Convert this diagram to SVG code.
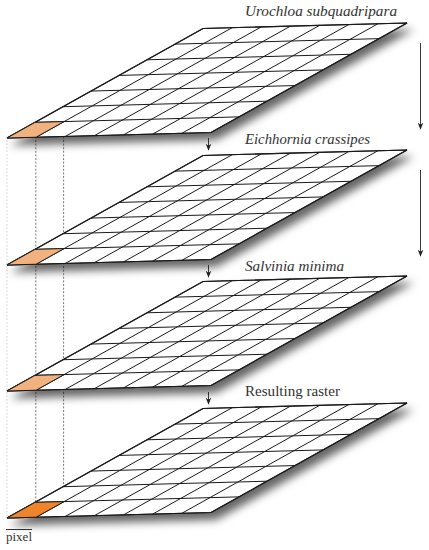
<svg xmlns="http://www.w3.org/2000/svg" xmlns:xlink="http://www.w3.org/1999/xlink" width="429" height="550" viewBox="0 0 429 550">
<style>
.grid{fill:none;stroke:#1a1a1a;stroke-width:1}
.plate{fill:#fff;stroke:#1a1a1a;stroke-width:1.1}
.lbl{font-family:"Liberation Serif",serif;font-size:15px;font-style:italic;fill:#333}
.lbl2{font-family:"Liberation Serif",serif;font-size:15px;fill:#333}
.conn{stroke:#222;stroke-width:0.9;fill:none}
.dash{stroke:#555;stroke-width:0.8;stroke-dasharray:2 1.6;fill:none}
.faint{stroke:#bbb;stroke-width:0.7;stroke-dasharray:1.5 2;fill:none}
.c1{fill:#f2b27f;stroke:#1a1a1a;stroke-width:1}
.c4{fill:#f0842a;stroke:#1a1a1a;stroke-width:1}
</style>
<defs>
<filter id="sh" x="-10%" y="-10%" width="130%" height="140%">
<feDropShadow dx="5" dy="7" stdDeviation="4.5" flood-color="#000" flood-opacity="0.6"/>
</filter>
<marker id="ah" viewBox="0 0 10 10" refX="9" refY="5" markerWidth="7" markerHeight="7" orient="auto" markerUnits="userSpaceOnUse">
<path d="M0,1 L10,5 L0,9 L3,5 Z" fill="#222"/>
</marker>
<g id="grid">
<polygon class="plate" points="7,138 211,132.5 407,23 203,28.5" filter="url(#sh)"/>
<path class="grid" d="M35,122.36 L239,116.86 M63,106.71 L267,101.21 M91,91.07 L295,85.57 M119,75.43 L323,69.93 M147,59.79 L351,54.29 M175,44.14 L379,38.64 M36.14,137.21 L232.14,27.71 M65.29,136.43 L261.29,26.93 M94.43,135.64 L290.43,26.14 M123.57,134.86 L319.57,25.36 M152.71,134.07 L348.71,24.57 M181.86,133.29 L377.86,23.79"/>
<polygon points="7,138 211,132.5 407,23 203,28.5" fill="none" stroke="#1a1a1a" stroke-width="1.1"/>
</g>
</defs>

<g id="projection-lines">
<line class="faint" x1="7" y1="140" x2="7" y2="518"/>
<line class="dash" x1="35.8" y1="122" x2="35.8" y2="503"/>
<line class="dash" x1="63.6" y1="122" x2="63.6" y2="503"/>
</g>

<g id="layer-urochloa">
<use xlink:href="#grid"/>
<polygon class="c1" points="7,138 36.14,137.21 64.14,121.57 35,122.36"/>
<text class="lbl" x="245" y="16" textLength="152" lengthAdjust="spacingAndGlyphs">Urochloa subquadripara</text>
</g>

<g id="layer-eichhornia" transform="translate(0,127)">
<use xlink:href="#grid"/>
<polygon class="c1" points="7,138 36.14,137.21 64.14,121.57 35,122.36"/>
<text class="lbl" x="245" y="17" textLength="125" lengthAdjust="spacingAndGlyphs">Eichhornia crassipes</text>
</g>

<g id="layer-salvinia" transform="translate(0,253)">
<use xlink:href="#grid"/>
<polygon class="c1" points="7,138 36.14,137.21 64.14,121.57 35,122.36"/>
<text class="lbl" x="245" y="18" textLength="99" lengthAdjust="spacingAndGlyphs">Salvinia minima</text>
</g>

<g id="layer-result" transform="translate(0,380)">
<use xlink:href="#grid"/>
<polygon class="c4" points="7,138 36.14,137.21 64.14,121.57 35,122.36"/>
<text class="lbl2" x="245" y="16" textLength="95" lengthAdjust="spacingAndGlyphs">Resulting raster</text>
</g>

<g id="connectors">
<line class="conn" x1="208.5" y1="138" x2="208.5" y2="150" marker-end="url(#ah)"/>
<line class="conn" x1="208.5" y1="265" x2="208.5" y2="277" marker-end="url(#ah)"/>
<line class="conn" x1="208.5" y1="392" x2="208.5" y2="404" marker-end="url(#ah)"/>
<line class="conn" x1="420.5" y1="43" x2="420.5" y2="129" marker-end="url(#ah)"/>
<line class="conn" x1="420.5" y1="170" x2="420.5" y2="256" marker-end="url(#ah)"/>
</g>

<g id="pixel-label">
<line x1="6" y1="529.5" x2="32" y2="529.5" stroke="#333" stroke-width="1"/>
<text class="lbl2" x="6" y="541" textLength="26" lengthAdjust="spacingAndGlyphs" style="font-size:13px">pixel</text>
</g>
</svg>
